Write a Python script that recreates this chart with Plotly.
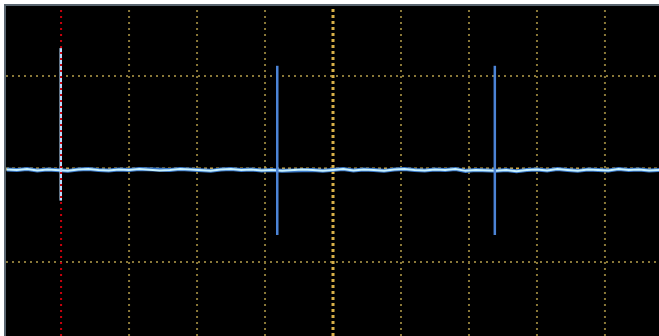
import plotly.graph_objects as go

# Horizontal: time in divisions (0 = screen centre); vertical: volts in divisions
base_t = [-4.8, -4.65, -4.5, -4.35, -4.2, -4.05, -3.9, -3.75, -3.6, -3.45, -3.3, -3.15, -3.0,
          -2.85, -2.7, -2.55, -2.4, -2.25, -2.1, -1.95, -1.8, -1.65, -1.5, -1.35, -1.2, -1.05,
          -0.9, -0.75, -0.6, -0.45, -0.3, -0.15, 0.0, 0.15, 0.3, 0.45, 0.6, 0.75, 0.9, 1.05,
          1.2, 1.35, 1.5, 1.65, 1.8, 1.95, 2.1, 2.25, 2.4, 2.55, 2.7, 2.85, 3.0, 3.15, 3.3,
          3.45, 3.6, 3.75, 3.9, 4.05, 4.2, 4.35, 4.5, 4.65, 4.8]
base_v = [-0.005, -0.01, 0.0, -0.015, -0.005, -0.01, -0.02, -0.005, 0.0, -0.01, -0.015, -0.005,
          -0.01, 0.0, -0.005, -0.015, -0.01, 0.0, -0.005, -0.01, -0.02, -0.005, 0.0, -0.01,
          -0.005, -0.015, -0.01, -0.02, -0.015, -0.005, -0.01, -0.02, -0.01, 0.0, -0.015,
          -0.005, -0.01, -0.02, -0.005, 0.0, -0.01, -0.015, -0.005, -0.01, 0.0, -0.02,
          -0.01, -0.015, -0.02, -0.01, -0.025, -0.01, -0.005, -0.015, 0.0, -0.01, -0.02,
          -0.005, -0.01, -0.015, 0.0, -0.01, -0.005, -0.015, -0.01]

spike_t = [-4.005, -0.82, 2.38]
spike_hi = [1.30, 1.11, 1.11]
spike_lo = [-0.34, -0.71, -0.71]
spike_col = ["#b8dcff", "#4c84d6", "#4c84d6"]

cursor_t = -4.0
grid_x = [-4, -3, -2, -1, 1, 2, 3, 4]
grid_y = [-1, 1]

X0, X1 = -4.81, 4.795
Y0, Y1 = -1.796, 1.753

fig = go.Figure()

# graticule
shapes = []
for gx in grid_x:
    if gx == cursor_t:
        continue
    shapes.append(dict(type="line", x0=gx, x1=gx, y0=Y0, y1=Y1, layer="below",
                       line=dict(color="#8a7838", width=2, dash="2px,4px")))
for gy in grid_y:
    shapes.append(dict(type="line", x0=X0, x1=X1, y0=gy, y1=gy, layer="below",
                       line=dict(color="#8a7838", width=2, dash="2px,4px")))
shapes.append(dict(type="line", x0=0, x1=0, y0=Y0, y1=Y1, layer="below",
                   line=dict(color="#d8b048", width=3, dash="3px,3px")))
shapes.append(dict(type="line", x0=X0, x1=X1, y0=0, y1=0, layer="below",
                   line=dict(color="#d8b048", width=3, dash="3px,3px")))
# trigger cursor, drawn on top of the trace
shapes.append(dict(type="line", x0=cursor_t, x1=cursor_t, y0=Y0, y1=Y1, layer="above",
                   line=dict(color="#c8000c", width=2, dash="2px,4px")))

# baseline glow + core
fig.add_trace(go.Scatter(x=base_t, y=base_v, mode="lines",
                         line=dict(color="#3a78c8", width=4), hoverinfo="skip"))
fig.add_trace(go.Scatter(x=base_t, y=base_v, mode="lines",
                         line=dict(color="#c8f2ff", width=2), hoverinfo="skip"))

for t, hi, lo, c in zip(spike_t, spike_hi, spike_lo, spike_col):
    fig.add_trace(go.Scatter(x=[t, t], y=[lo, hi], mode="lines",
                             line=dict(color=c, width=2.5), hoverinfo="skip"))

fig.update_layout(
    width=659, height=336,
    margin=dict(l=6, r=0, t=6, b=0),
    paper_bgcolor="#ffffff",
    plot_bgcolor="#000000",
    showlegend=False,
    shapes=shapes,
    xaxis=dict(range=[X0, X1], showgrid=False, zeroline=False, showticklabels=False,
               ticks="", showline=True, linecolor="#5a6670", linewidth=2, side="top"),
    yaxis=dict(range=[Y0, Y1], showgrid=False, zeroline=False, showticklabels=False,
               ticks="", showline=True, linecolor="#5a6670", linewidth=2),
)

fig.write_html("out.html")
